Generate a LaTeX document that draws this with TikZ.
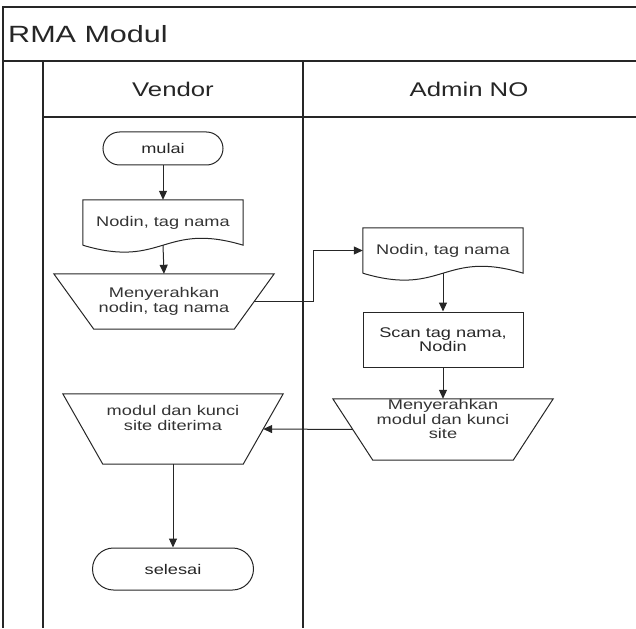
\documentclass[tikz,border=0pt]{standalone}
\usepackage{fontspec}
\setmainfont{Liberation Sans}[FakeStretch=1.3]
\usetikzlibrary{arrows.meta}
\begin{document}
\begin{tikzpicture}[x=1pt,y=-1pt,
    lane/.style={line width=1.6pt,black!85},
    shp/.style={line width=1pt,black!85},
    txt/.style={font=\fontsize{14pt}{14.5pt}\selectfont,text=black!80,align=center,inner sep=0pt},
    head/.style={font=\fontsize{19.8pt}{22pt}\selectfont,text=black!85,inner sep=0pt},
    terminal/.style={txt,draw,shp,rounded corners=#1,minimum height=2*#1},
    proc/.style={txt,draw,shp,minimum width=160pt,minimum height=55pt},
    doc/.style={txt,minimum width=160pt,minimum height=45pt},
    io/.style={txt,minimum width=180pt,minimum height=#1},
    flow/.style={shp,-{Triangle[length=9pt,width=8pt]}}]
        \useasboundingbox (0,0) rectangle (636,628);
        %% pool and lanes
        \draw[lane] (636,7) -- (3,7) -- (3,628);
        \draw[lane] (3,61) -- (636,61);
        \draw[lane] (43,117) -- (636,117);
        \draw[lane] (43,61) -- (43,628);
        \draw[lane] (303,61) -- (303,628);
        \node[head,font=\fontsize{23.5pt}{28pt}\selectfont,anchor=west] (pool) at (8,34) {RMA Modul};
        \node[head] (vendor) at (173,89) {Vendor};
        \node[head] (admin) at (469,89) {Admin NO};
        %% vendor
        \node[terminal=16.5pt,minimum width=120pt] (mulai) at (163,148.5) {mulai};
        \node[doc] (nodin) at (163,222.5) {Nodin, tag nama};
        \node[io=55pt] (serah) at (164,301.5) {Menyerahkan\\nodin, tag nama};
        \node[io=70pt] (terima) at (173,429) {modul dan kunci\\site diterima\\[8pt]};
        \node[terminal=21pt,minimum width=161pt] (selesai) at (173,569) {selesai};
        %% admin NO
        \node[doc] (nodinadm) at (443,250.5) {Nodin, tag nama};
        \node[proc] (scan) at (443,339.5) {Scan tag nama,\\Nodin};
        \node[io=61pt] (serahmodul) at (443,429.5) {Menyerahkan\\modul dan kunci\\site\\[6pt]};
        %% outlines
        \foreach \n in {nodin,nodinadm}
            \draw[shp] (\n.south west) -- (\n.north west) -- (\n.north east) -- (\n.south east)
                .. controls ([shift={(-80pt,24pt)}]\n.south east) and ([shift={(80pt,-24pt)}]\n.south west) .. (\n.south west);
        \foreach \n in {serah,terima,serahmodul}
            \draw[shp] ([xshift=-20pt]\n.north west) -- ([xshift=20pt]\n.north east)
                -- ([xshift=-20pt]\n.south east) -- ([xshift=20pt]\n.south west) -- cycle;
        %% flow
        \draw[flow] (mulai) -- (nodin);
        \draw[flow] (nodin.south) -- (serah.north);
        \draw[flow] (serah.east) -- ++(59,0) |- (nodinadm.west);
        \draw[flow] (nodinadm.south) -- (scan.north);
        \draw[flow] (scan) -- (serahmodul);
        \draw[flow] (serahmodul.west) -- (terima.east);
        \draw[flow] (terima) -- (selesai);
\end{tikzpicture}
\end{document}
